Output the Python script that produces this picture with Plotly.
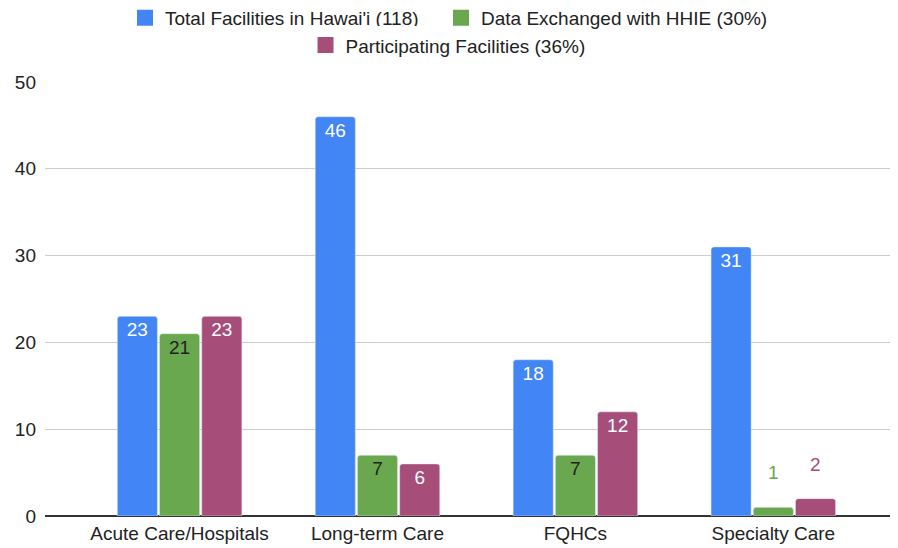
import plotly.graph_objects as go

categories = ["Acute Care/Hospitals", "Long-term Care", "FQHCs", "Specialty Care"]
total = [23, 46, 18, 31]
exchanged = [21, 7, 7, 1]
participating = [23, 6, 12, 2]
series_names = ["Total Facilities in Hawai'i (118)", "Data Exchanged with HHIE (30%)", "Participating Facilities (36%)"]
y_ticks = [0, 10, 20, 30, 40, 50]

colors = ["#4285F4", "#6AA84F", "#A64D79"]
inside_colors = ["#FFFFFF", "#222222", "#FFFFFF"]
FONT = "Arial, Liberation Sans, sans-serif"
FS = 19
MIN_INSIDE = 4  # values below this get their label above the bar

fig = go.Figure()
series = [total, exchanged, participating]
legends = ["legend", "legend3", "legend2"]
bargap = 0.36
groupgap = 0.05
slot = (1 - bargap) / 3

for i, (vals, name) in enumerate(zip(series, series_names)):
    texts = [str(v) if v >= MIN_INSIDE else "" for v in vals]
    fig.add_trace(go.Bar(
        x=categories, y=vals, name=name, marker_color=colors[i],
        text=texts, textposition="inside", insidetextanchor="end",
        textfont=dict(color=inside_colors[i], size=FS, family=FONT),
        textangle=0, showlegend=False, hoverinfo="skip",
    ))
    for j, v in enumerate(vals):
        if v < MIN_INSIDE:
            fig.add_annotation(x=j + (i - 1) * slot, y=v, text=str(v), showarrow=False,
                               yanchor="bottom", yshift=22,
                               font=dict(color=colors[i], size=FS, family=FONT))

# legend-only entries with larger square swatches
for i, name in enumerate(series_names):
    fig.add_trace(go.Scatter(
        x=[None], y=[None], mode="markers", name=name, legend=legends[i],
        marker=dict(symbol="square", size=16, color=colors[i]), hoverinfo="skip",
    ))

leg_common = dict(orientation="h", xref="container", yref="container", yanchor="middle",
                  font=dict(size=FS, color="#222222"))

fig.update_layout(
    width=898, height=548,
    margin=dict(l=37, r=8, t=74, b=40, autoexpand=False),
    plot_bgcolor="white", paper_bgcolor="white",
    barmode="group", bargap=bargap, bargroupgap=groupgap, barcornerradius=3,
    font=dict(family=FONT, size=FS, color="#222222"),
    legend=dict(x=117 / 898, xanchor="left", y=0.982, **leg_common),
    legend3=dict(x=433 / 898, xanchor="left", y=0.982, **leg_common),
    legend2=dict(x=0.49, xanchor="center", y=0.932, **leg_common),
    xaxis=dict(range=[-0.68, 3.63], showgrid=False, showline=False, ticks="",
               ticklabelstandoff=4, tickfont=dict(size=FS, color="#222222")),
    yaxis=dict(range=[0, 50], tickvals=y_ticks, showgrid=True, gridcolor="#CCCCCC", gridwidth=1,
               zeroline=True, zerolinecolor="#333333", zerolinewidth=1.5,
               ticklabelstandoff=8, tickfont=dict(size=FS, color="#222222"), fixedrange=True),
)

fig.write_html("out.html")
